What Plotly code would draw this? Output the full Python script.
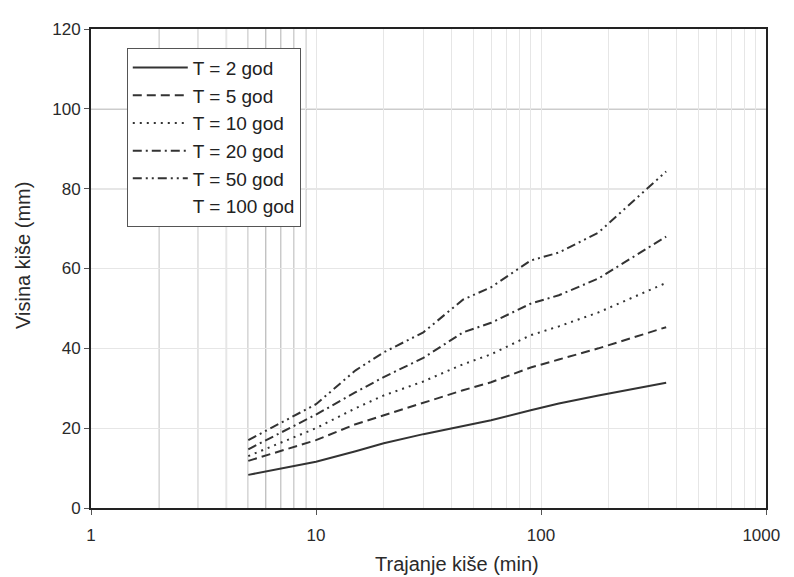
import plotly.graph_objects as go

durations = [5, 10, 15, 20, 30, 45, 60, 90, 120, 180, 360]
t2 = [8.3, 11.6, 14.2, 16.2, 18.5, 20.6, 22.0, 24.5, 26.2, 28.2, 31.4]
t5 = [11.8, 17.0, 21.0, 23.2, 26.2, 29.5, 31.5, 35.2, 37.2, 40.0, 45.3]
t10 = [13.0, 20.0, 25.0, 28.2, 31.7, 36.0, 38.5, 43.3, 45.5, 49.0, 56.4]
t20 = [14.7, 23.4, 29.0, 32.8, 37.6, 44.0, 46.4, 51.2, 53.3, 57.5, 68.0]
t50 = [17.0, 26.0, 34.5, 39.0, 44.0, 52.2, 55.3, 62.0, 64.0, 69.0, 84.3]

names = ["T = 2 god", "T = 5 god", "T = 10 god", "T = 20 god", "T = 50 god"]
series = [t2, t5, t10, t20, t50]
dashes = ["solid", "9px,5px", "2px,5px", "9px,4px,2px,4px", "9px,4px,2px,4px,2px,4px"]

dark_grid_x = [2, 3, 4, 5, 6, 7, 8, 9]
dark_grid_y = [80, 100]
x_ticks = [1, 10, 100, 1000]
x_ticktext = ["1", "10", "100", "1000\u00a0\u00a0"]
y_ticks = [0, 20, 40, 60, 80, 100, 120]

fig = go.Figure()
for i, (nm, ys, ds) in enumerate(zip(names, series, dashes)):
    fig.add_trace(go.Scatter(
        x=durations, y=ys, mode="lines", name=nm, legendgroup=f"g{i}",
        line=dict(color="#333333", width=2, dash=ds)))
fig.add_trace(go.Scatter(
    x=[None], y=[None], mode="lines", name="T = 100 god", legendgroup="g5",
    line=dict(color="rgba(0,0,0,0)", width=2)))

shapes = []
for gx in dark_grid_x:
    shapes.append(dict(type="line", xref="x", yref="paper", x0=gx, x1=gx, y0=0, y1=1,
                       line=dict(color="#8a8a8a", width=1.2), layer="below"))
for gy in dark_grid_y:
    shapes.append(dict(type="line", xref="paper", yref="y", x0=0, x1=1, y0=gy, y1=gy,
                       line=dict(color="#9a9a9a", width=1.2), layer="below"))

font_fam = "Liberation Sans, Arial, sans-serif"

fig.update_layout(
    width=794, height=577,
    margin=dict(l=83, r=32, t=14, b=77),
    paper_bgcolor="white", plot_bgcolor="white",
    font=dict(family=font_fam, color="#2a2a2a", size=17),
    shapes=shapes,
    showlegend=True,
    legend=dict(x=0.053, y=0.961, xanchor="left", yanchor="top",
                bgcolor="white", bordercolor="#555555", borderwidth=1,
                font=dict(size=19, color="#222222"), tracegroupgap=0,
                itemwidth=55),
    xaxis=dict(type="log", range=[0, 3], tickvals=x_ticks, ticktext=x_ticktext,
               showgrid=True, gridcolor="#e6e6e6", gridwidth=1,
               minor=dict(showgrid=True, gridcolor="#e6e6e6", gridwidth=1, dtick="D1"),
               ticks="outside", ticklen=5, tickcolor="#555555",
               ticklabelstandoff=6,
               showline=True, linecolor="#222222", linewidth=2, mirror=True,
               zeroline=False),
    yaxis=dict(range=[0, 120], tickvals=y_ticks,
               showgrid=True, gridcolor="#e6e6e6", gridwidth=1,
               ticks="outside", ticklen=5, tickcolor="#555555",
               showline=True, linecolor="#222222", linewidth=2, mirror=True,
               zeroline=False),
    annotations=[
        dict(text="Trajanje kiše (min)", xref="paper", yref="paper", x=0.542, y=-0.117,
             xanchor="center", yanchor="middle", showarrow=False,
             font=dict(size=20, color="#2a2a2a", family=font_fam)),
        dict(text="Visina kiše (mm)", xref="paper", yref="paper", x=-0.1016, y=0.527,
             xanchor="center", yanchor="middle", showarrow=False, textangle=-90,
             font=dict(size=20, color="#2a2a2a", family=font_fam)),
    ],
)

fig.write_html("out.html")
